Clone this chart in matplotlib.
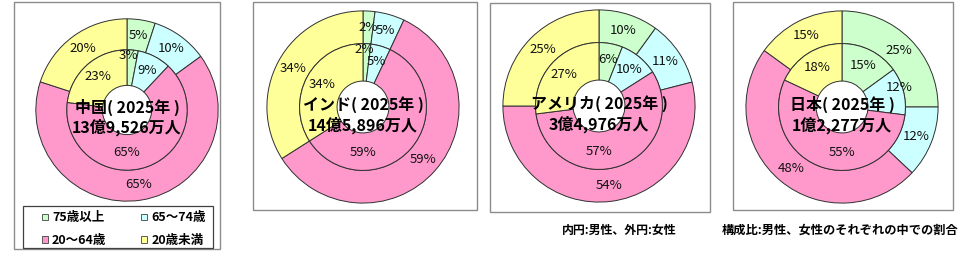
import numpy as np
import matplotlib
matplotlib.use("Agg")
import matplotlib.pyplot as plt
from matplotlib.patches import Rectangle, Patch

plt.rcParams['font.family'] = ['Noto Sans CJK JP', 'DejaVu Sans']

# age groups, clockwise from 12 o'clock
groups = ['75歳以上', '65～74歳', '20～64歳', '20歳未満']
colors = ['#CCFFCC', '#CCFFFF', '#FF99CC', '#FFFF99']

countries = ['中国', 'インド', 'アメリカ', '日本']
totals = ['13億9,526万人', '14億5,896万人', '3億4,976万人', '1億2,277万人']
female_outer = [[5, 10, 65, 20], [2, 5, 59, 34], [10, 11, 54, 25], [25, 12, 48, 15]]
male_inner = [[3, 9, 65, 23], [2, 5, 59, 34], [6, 10, 57, 27], [15, 12, 55, 18]]

W, H = 960, 259
fig = plt.figure(figsize=(9.6, 2.59), dpi=100)

# panel frames (pixels: x0, y0, x1, y1) and pie centre/radius
frames = [(14, 2, 220, 249), (253, 2, 477, 210), (490, 3, 710, 212), (733, 2, 953, 210)]
pies = [(127, 110, 93), (363, 107, 98), (599, 106, 98), (842, 107, 98)]


def fx(px):
    return px / W


def fy(py):
    return 1 - py / H


for x0, y0, x1, y1 in frames:
    fig.patches.append(Rectangle((fx(x0), fy(y1)), fx(x1 - x0), (y1 - y0) / H,
                                 transform=fig.transFigure, fill=False,
                                 edgecolor='#8c8c8c', linewidth=1.0))

r_mid = 0.66
r_hole = 0.27
edge = dict(edgecolor='#303030', linewidth=0.7)

for i in range(4):
    cx, cy, r = pies[i]
    ax = fig.add_axes([fx(cx - r), fy(cy + r), 2 * r / W, 2 * r / H])
    ax.set_axis_off()
    w_out, _ = ax.pie(female_outer[i], colors=colors, radius=1, startangle=90,
                      counterclock=False, wedgeprops=dict(width=1 - r_mid, **edge))
    w_in, _ = ax.pie(male_inner[i], colors=colors, radius=r_mid, startangle=90,
                     counterclock=False, wedgeprops=dict(width=r_mid - r_hole, **edge))
    ax.set_xlim(-1.02, 1.02)
    ax.set_ylim(-1.02, 1.02)
    ax.set_aspect('equal')

    # outer ring labels
    for w, v in zip(w_out, female_outer[i]):
        a = np.deg2rad((w.theta1 + w.theta2) / 2)
        ax.text(0.83 * np.cos(a), 0.83 * np.sin(a), f'{v}%', ha='center', va='center',
                fontsize=9.5, color='#111111')
    # inner ring labels, moved clear of the centre text like the original
    for w, v in zip(w_in, male_inner[i]):
        a = np.deg2rad((w.theta1 + w.theta2) / 2)
        rr = 0.49
        if v < 4:
            a = np.deg2rad(w.theta2 - 1)
            rr = 0.6
        elif v > 40:
            a = np.deg2rad(-90)
            rr = 0.47
        elif abs(np.sin(a)) < 0.35:
            rr = 0.62
        x, y = rr * np.cos(a), rr * np.sin(a)
        if 0 < y < 0.2:
            y = 0.2
        ax.text(x, y, f'{v}%', ha='center', va='center',
                fontsize=9.5, color='#111111')

    ax.text(0, 0.03, f'{countries[i]}( 2025年 )', ha='center', va='center',
            fontsize=11.5, fontweight='bold')
    ax.text(0, -0.19, totals[i], ha='center', va='center',
            fontsize=11.5, fontweight='bold')

# legend in first panel (row-wise order)
handles = [Patch(facecolor=c, edgecolor='#404040', linewidth=0.6) for c in colors]
order = [0, 2, 1, 3]
leg = fig.legend([handles[k] for k in order], [groups[k] for k in order], ncol=2,
                 loc='center', bbox_to_anchor=(fx(124), fy(229)), frameon=False,
                 handlelength=0.45, handleheight=0.45, handletextpad=0.35,
                 columnspacing=2.8, labelspacing=0.75, borderpad=0.2,
                 prop=dict(weight='bold', size=9))
fig.patches.append(Rectangle((fx(23), fy(248)), fx(213 - 23), (248 - 206) / H,
                             transform=fig.transFigure, fill=False,
                             edgecolor='#404040', linewidth=0.9))

fig.text(fx(562), fy(230), '内円:男性、外円:女性', ha='left', va='center',
         fontsize=8.6, fontweight='bold')
fig.text(fx(722), fy(230), '構成比:男性、女性のそれぞれの中での割合', ha='left', va='center',
         fontsize=8.8, fontweight='bold')

fig.savefig('out.png', dpi=100)
